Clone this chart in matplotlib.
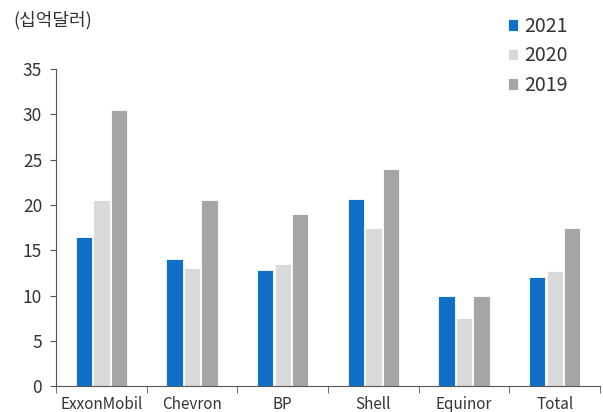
import numpy as np
import matplotlib.pyplot as plt

plt.rcParams['font.family'] = ['Noto Sans CJK KR', 'DejaVu Sans']

companies = ['ExxonMobil', 'Chevron', 'BP', 'Shell', 'Equinor', 'Total']
years = ['2021', '2020', '2019']
v2021 = [16.5, 14.0, 12.8, 20.7, 10.0, 12.0]
v2020 = [20.5, 13.0, 13.5, 17.5, 7.5, 12.7]
v2019 = [30.5, 20.5, 19.0, 24.0, 10.0, 17.5]
colors = ['#1070C8', '#D9D9D9', '#A6A6A6']

fig = plt.figure(figsize=(6.03, 4.12), dpi=100)
ax = fig.add_axes([0.093, 0.063, 0.902, 0.769])

x = np.arange(len(companies))
w = 0.18
off = 0.193
for i, (vals, lab) in enumerate(zip([v2021, v2020, v2019], years)):
    ax.bar(x + (i - 1) * off, vals, w, color=colors[i], label=lab,
           edgecolor='white', linewidth=0.6)

ax.set_xlim(-0.5, len(companies) - 0.5)
ax.set_ylim(0, 35)
ax.set_yticks(range(0, 36, 5))
ax.set_xticks(x)
ax.set_xticklabels(companies, fontsize=11, color='#333333')
ax.set_xticks(np.arange(-0.5, len(companies)), minor=True)
ax.tick_params(axis='x', which='major', length=0, pad=7)
ax.tick_params(axis='x', which='minor', length=5, color='#555555')
ax.tick_params(axis='y', labelsize=12.5, colors='#333333', length=4, pad=6)
ax.tick_params(axis='y', color='#555555')
for s in ['top', 'right']:
    ax.spines[s].set_visible(False)
for s in ['left', 'bottom']:
    ax.spines[s].set_color('#555555')

fig.text(0.022, 0.952, '(십억달러)', fontsize=13, color='#333333', va='center')
fig.legend(loc='upper left', bbox_to_anchor=(0.823, 0.99), frameon=False,
           fontsize=14, handlelength=0.52, handleheight=0.52, handletextpad=0.3,
           labelspacing=0.44, borderaxespad=0.2, labelcolor='#333333')

fig.savefig('out.png', dpi=100)
